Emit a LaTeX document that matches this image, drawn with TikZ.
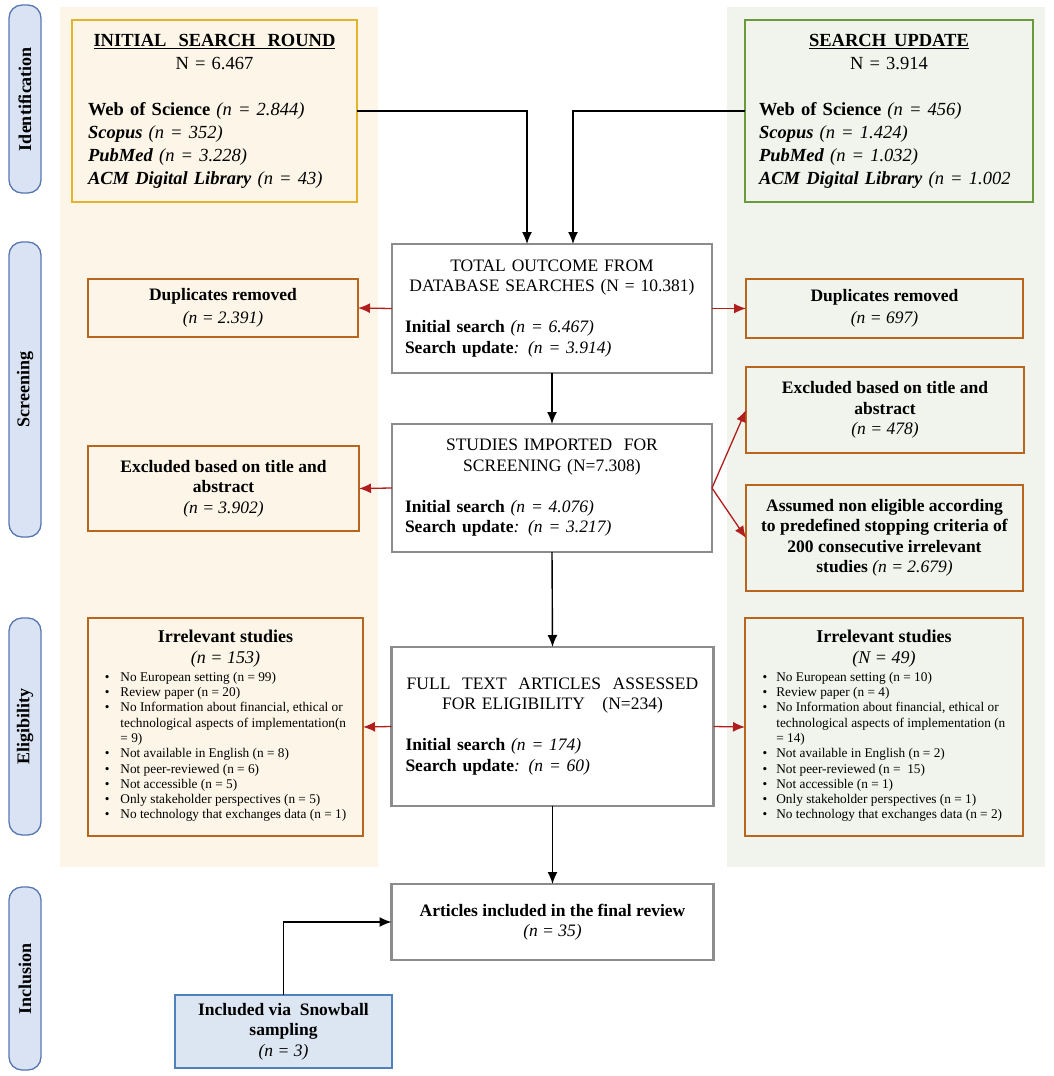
\documentclass[tikz,border=0pt]{standalone}
\usepackage{fontspec}
\setmainfont{Liberation Serif}
\usetikzlibrary{arrows.meta,calc}
\definecolor{lpanel}{HTML}{FDF6E8}
\definecolor{rpanel}{HTML}{F0F4EC}
\definecolor{goldbd}{HTML}{E2B42A}
\definecolor{greenbd}{HTML}{6B9A3C}
\definecolor{orangebd}{HTML}{B8651E}
\definecolor{graybd}{HTML}{8C8C8C}
\definecolor{redarr}{HTML}{B01E1E}
\definecolor{pillfill}{HTML}{D9E3F3}
\definecolor{pillbd}{HTML}{5878B4}
\definecolor{snowfill}{HTML}{DCE6F2}
\definecolor{snowbd}{HTML}{4F81BD}
\begin{document}
\begin{tikzpicture}[x=1pt,y=-1pt,
  every node/.style={inner sep=0pt, outer sep=0pt},
  bigfont/.style={font=\fontsize{18.5}{23}\selectfont},
  midfont/.style={font=\fontsize{17.5}{20.5}\selectfont},
  pill/.style={draw=pillbd, fill=pillfill, line width=1.3pt, rounded corners=13pt,
    rotate=90, minimum height=32pt, font=\fontsize{18}{20}\selectfont\bfseries},
  srcbox/.style={line width=2.6pt, bigfont, align=left},
  gbox/.style={draw=graybd, fill=white, line width=2.2pt, midfont, align=left},
  obox/.style={draw=orangebd, line width=1.3pt, midfont, align=center},
  irrbox/.style={draw=orangebd, line width=1.3pt, font=\fontsize{13.3}{15.3}\selectfont},
  blk/.style={draw=black, line width=1.4pt, -{Latex[length=12pt,width=10pt]}},
  redarrow/.style={draw=redarr, line width=1.3pt, -{Latex[length=12pt,width=10pt]}}
]
\useasboundingbox (0,0) rectangle (1053,1076);
\fill[white] (0,0) rectangle (1053,1076);

% background panels
\fill[lpanel] (60,7) rectangle (378,867);
\fill[rpanel] (727,7) rectangle (1045,867);

% phase pills
\node[pill, minimum width=188pt] (pid) at (25,99) {Identification};
\node[pill, minimum width=295pt] (psc) at (25,389.5) {Screening};
\node[pill, minimum width=217pt] (pel) at (25,726.5) {Eligibility};
\node[pill, minimum width=183pt] (pin) at (25,978.5) {Inclusion};

% identification boxes
\node[srcbox, draw=goldbd, fill=lpanel, minimum width=285pt, minimum height=182pt, text width=253pt] (init) at (214.5,111) {%
{\centering\textbf{\underline{INITIAL\hspace{12pt}SEARCH\hspace{12pt}ROUND}}\\ N = 6.467\par}
\vspace{23pt}
\textbf{Web of Science} \textit{(n = 2.844)}\\
\textbf{\textit{Scopus}} \textit{(n = 352)}\\
\textbf{\textit{PubMed}} \textit{(n = 3.228)}\\
\textbf{\textit{ACM Digital Library}} \textit{(n = 43)}};

\node[srcbox, draw=greenbd, fill=rpanel, minimum width=288pt, minimum height=182pt, text width=260pt] (upd) at (889,111) {%
{\centering\textbf{\underline{SEARCH\hspace{8pt}UPDATE}}\\ N = 3.914\par}
\vspace{23pt}
\textbf{Web of Science} \textit{(n = 456)}\\
\textbf{\textit{Scopus}} \textit{(n = 1.424)}\\
\textbf{\textit{PubMed}} \textit{(n = 1.032)}\\
\textbf{\textit{ACM Digital Library}} \textit{(n = 1.002}};

% central flow
\node[gbox, minimum width=320pt, minimum height=129pt, text width=294pt] (tot) at (552,308.5) {%
{\centering TOTAL OUTCOME FROM\\ DATABASE SEARCHES (N = 10.381)\par}
\vspace{20.5pt}
\textbf{Initial search} \textit{(n = 6.467)}\\
\textbf{Search update}\textit{:} \textit{(n = 3.914)}};

\node[gbox, minimum width=320pt, minimum height=128pt, text width=294pt] (stu) at (552,488) {%
{\centering STUDIES IMPORTED\ \ FOR\\ SCREENING (N=7.308)\par}
\vspace{20.5pt}
\textbf{Initial search} \textit{(n = 4.076)}\\
\textbf{Search update}\textit{:} \textit{(n = 3.217)}};

\node[gbox, minimum width=322pt, minimum height=159pt, text width=294pt] (full) at (552.5,726.5) {%
{\centering FULL\ \ TEXT\ \ ARTICLES\ \ ASSESSED\\ FOR ELIGIBILITY\quad (N=234)\par}
\vspace{20.5pt}
\textbf{Initial search} \textit{(n = 174)}\\
\textbf{Search update}\textit{:} \textit{(n = 60)}};

\node[draw=graybd, fill=white, line width=2.2pt, midfont, align=center, minimum width=322pt, minimum height=76pt] (art) at (552.5,922) {%
\textbf{Articles included in the final review}\\ \textit{(n = 35)}};

\node[draw=snowbd, fill=snowfill, line width=2pt, midfont, align=center, minimum width=217pt, minimum height=73pt] (snow) at (283.5,1031.5) {%
\textbf{Included via\ \ Snowball}\\ \textbf{sampling}\\ \textit{(n = 3)}};

% left side boxes
\node[obox, fill=lpanel, minimum width=270pt, minimum height=58pt] (dupL) at (223,308) {%
\textbf{Duplicates removed}\\[2pt] \textit{(n = 2.391)}};
\node[obox, fill=lpanel, minimum width=271pt, minimum height=85pt] (excL) at (223.5,488.5) {%
\textbf{Excluded based on title and}\\ \textbf{abstract}\\ \textit{(n = 3.902)}};

% right side boxes
\node[obox, fill=rpanel, minimum width=277pt, minimum height=59pt] (dupR) at (884.5,308.5) {%
\textbf{Duplicates removed}\\[2pt] \textit{(n = 697)}};
\node[obox, fill=rpanel, minimum width=278pt, minimum height=86pt] (excR) at (885,410) {%
\textbf{Excluded based on title and}\\ \textbf{abstract}\\ \textit{(n = 478)}};
\node[obox, fill=rpanel, minimum width=277pt, minimum height=106pt] (ass) at (884.5,538) {%
\textbf{Assumed non eligible according}\\ \textbf{to predefined stopping criteria of}\\ \textbf{200 consecutive irrelevant}\\ \textbf{studies} \textit{(n = 2.679)}};

% irrelevant studies boxes
\node[irrbox, fill=lpanel, minimum width=275pt, minimum height=218pt] (irrL) at (225.5,727) {%
\begin{tabular}{@{}l@{\hspace{11pt}}l@{}}
\multicolumn{2}{c}{\fontsize{18}{21}\selectfont\bfseries Irrelevant studies}\\[4pt]
\multicolumn{2}{c}{\fontsize{18}{21}\selectfont\itshape (n = 153)}\\[2pt]
• & No European setting (n = 99)\\
• & Review paper (n = 20)\\
• & No Information about financial, ethical or\\
  & technological aspects of implementation(n\\
  & = 9)\\
• & Not available in English (n = 8)\\
• & Not peer-reviewed (n = 6)\\
• & Not accessible (n = 5)\\
• & Only stakeholder perspectives (n = 5)\\
• & No technology that exchanges data (n = 1)
\end{tabular}};

\node[irrbox, fill=rpanel, minimum width=278pt, minimum height=218pt] (irrR) at (884,727) {%
\begin{tabular}{@{}l@{\hspace{9pt}}l@{}}
\multicolumn{2}{c}{\fontsize{18}{21}\selectfont\bfseries Irrelevant studies}\\[4pt]
\multicolumn{2}{c}{\fontsize{18}{21}\selectfont\itshape (N = 49)}\\[2pt]
• & No European setting (n = 10)\\
• & Review paper (n = 4)\\
• & No Information about financial, ethical or\\
  & technological aspects of implementation (n\\
  & = 14)\\
• & Not available in English (n = 2)\\
• & Not peer-reviewed (n =\ \ 15)\\
• & Not accessible (n = 1)\\
• & Only stakeholder perspectives (n = 1)\\
• & No technology that exchanges data (n = 2)
\end{tabular}};

% black connectors
\draw[blk] (init.east) -| ($(tot.north)+(-25,0)$);
\draw[blk] (upd.west) -| ($(tot.north)+(21,0)$);
\draw[blk] (tot.south) -- (stu.north);
\draw[blk] (stu.south) -- (full.north);
\draw[blk] (full.south) -- (art.north);
\draw[blk] (snow.north) |- (art.west);

% red connectors
\draw[redarrow] (tot.west) -- (dupL.east);
\draw[redarrow] (tot.east) -- (dupR.west);
\draw[redarrow] (stu.west) -- (excL.east);
\draw[redarrow] (stu.east) -- (excR.west);
\draw[redarrow] (stu.east) -- (ass.west);
\draw[redarrow] (full.west) -- (irrL.east);
\draw[redarrow] (full.east) -- (irrR.west);
\end{tikzpicture}
\end{document}
